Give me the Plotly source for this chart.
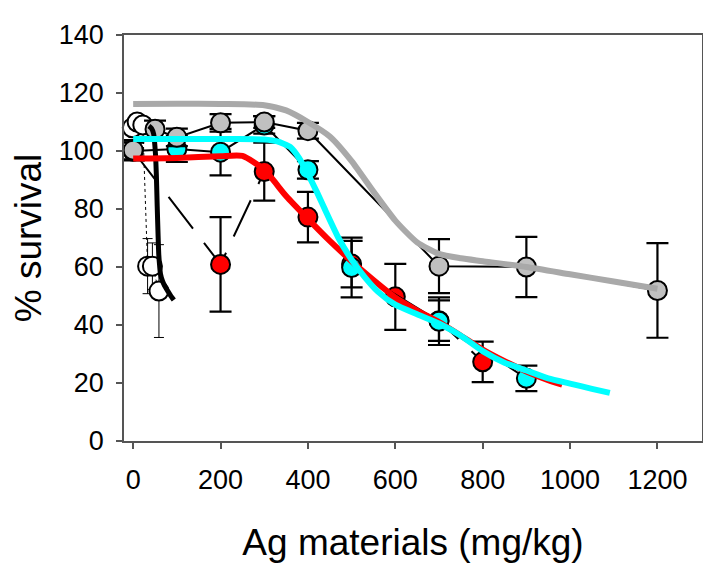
import plotly.graph_objects as go

# ---------------- data ----------------
# white (open) series
white_x = [-2, 9, 22, 33, 44, 59]
white_y = [108, 110, 109, 60.3, 60.3, 51.7]
white_err = [0, 0, 0, 9.5, 8, 16]

# gray series
gray_x = [0, 50, 100, 200, 300, 400, 700, 900, 1200]
gray_y = [100.3, 107.5, 104.7, 109.7, 110, 107, 60.3, 60, 51.9]
gray_err = [3.5, 3, 3, 3, 2, 2.7, 9.3, 10.4, 16.3]

# cyan series
cyan_x = [0, 100, 200, 300, 400, 500, 700, 900]
cyan_y = [100, 100.7, 99.6, 109, 93.5, 59.8, 41.3, 21.6]
cyan_err = [3, 4.5, 8, 3, 3, 10.3, 8.2, 4.4]

# red series
red_x = [0, 200, 300, 400, 500, 600, 700, 800]
red_y = [100, 60.9, 92.9, 77.2, 61, 49.7, 41.5, 27.3]
red_err = [3, 16.3, 10, 8.7, 8, 11.4, 7, 7]

# fitted curves
black_fit_x = [36, 42, 47, 51, 53, 55, 57, 58.6, 60.5, 62.5, 67, 72, 78, 85, 93]
black_fit_y = [108.6, 107.8, 105.8, 99, 92, 81, 71, 64.3, 60.5, 57.6, 55.2, 53.5, 52, 50.3, 48.6]

gray_fit_x = [0, 100, 200, 300, 350, 400, 450, 500, 550, 600, 650, 700, 750, 800, 900, 1000, 1100, 1200]
gray_fit_y = [116.2, 116.3, 116.2, 115.8, 114, 110, 105, 96.5, 86, 76, 68.5, 64.5, 63, 62, 60, 57.5, 55, 52.5]

red_fit_x = [0, 100, 200, 250, 300, 350, 400, 450, 500, 550, 600, 650, 700, 750, 800, 850, 900, 950, 982]
red_fit_y = [97.4, 97.6, 98.2, 98.3, 93.5, 84.5, 76.6, 69, 62, 55.5, 49.5, 45, 41, 36.3, 31.5, 27.5, 24, 21, 19.4]

cyan_fit_x = [0, 100, 200, 300, 330, 360, 380, 400, 420, 440, 470, 500, 530, 560, 600, 650, 700, 750, 800, 850, 900, 950, 1000, 1050, 1091]
cyan_fit_y = [104.1, 104.1, 104.1, 104, 103.3, 101.3, 97.5, 92, 86, 79.5, 70, 62.5, 56.5, 51.5, 47, 43.7, 40.5, 36.3, 31, 27, 24.3, 21.6, 19.8, 18, 16.6]

x_ticks = [0, 200, 400, 600, 800, 1000, 1200]
y_ticks = [0, 20, 40, 60, 80, 100, 120, 140]

# ---------------- figure ----------------
fig = go.Figure()


def series(x, y, err, fill, dash, lw, ethick, ewidth):
    fig.add_trace(go.Scatter(
        x=x, y=y, mode="lines+markers",
        line=dict(color="black", width=lw, dash=dash),
        marker=dict(size=19, color=fill, line=dict(color="black", width=2)),
        error_y=dict(type="data", array=err, visible=True, color="black",
                     thickness=ethick, width=ewidth),
        showlegend=False, cliponaxis=False,
    ))


series(white_x, white_y, white_err, "white", "dot", 1, 1, 5)
series(red_x, red_y, red_err, "#FF0000", "40px,18px", 2, 2.2, 11)
series(cyan_x, cyan_y, cyan_err, "#00FFFF", "solid", 2, 2.2, 11)
series(gray_x, gray_y, gray_err, "#C0C0C0", "solid", 2, 2.2, 11)


def fit(x, y, color, w):
    fig.add_trace(go.Scatter(x=x, y=y, mode="lines",
                             line=dict(color=color, width=w, shape="spline", smoothing=0.6),
                             showlegend=False, hoverinfo="skip"))


fit(black_fit_x, black_fit_y, "black", 5)
fit(gray_fit_x, gray_fit_y, "#A9A9A9", 6)
fit(red_fit_x, red_fit_y, "#FF0000", 6)
fit(cyan_fit_x, cyan_fit_y, "#00FFFF", 6)

font_family = "Liberation Sans, Arial, sans-serif"

# the page body adds an 8px offset, margins compensate for it
fig.update_layout(
    width=711, height=570,
    margin=dict(l=115.5, r=17.3, t=17, b=137),
    paper_bgcolor="white", plot_bgcolor="white",
    font=dict(family=font_family, color="black", size=27),
)
fig.update_xaxes(
    range=[-21, 1302], tickvals=x_ticks, ticktext=[str(v) for v in x_ticks],
    showgrid=False, zeroline=False, showline=True, mirror=True,
    linecolor="#555555", linewidth=1.5,
    ticks="outside", ticklen=6, tickwidth=1.5, tickcolor="#555555",
    tickfont=dict(size=27, family=font_family), ticklabelstandoff=8,
    title=dict(text="Ag materials (mg/kg)", font=dict(size=37, family=font_family), standoff=35),
)
fig.update_yaxes(
    range=[0, 140], tickvals=y_ticks, ticktext=[str(v) for v in y_ticks],
    showgrid=False, zeroline=False, showline=True, mirror=True,
    linecolor="#555555", linewidth=1.5,
    ticks="outside", ticklen=6, tickwidth=1.5, tickcolor="#555555",
    tickfont=dict(size=27, family=font_family), ticklabelstandoff=7,
    title=dict(text="% survival", font=dict(size=37, family=font_family), standoff=10),
)

fig.write_html("out.html")
